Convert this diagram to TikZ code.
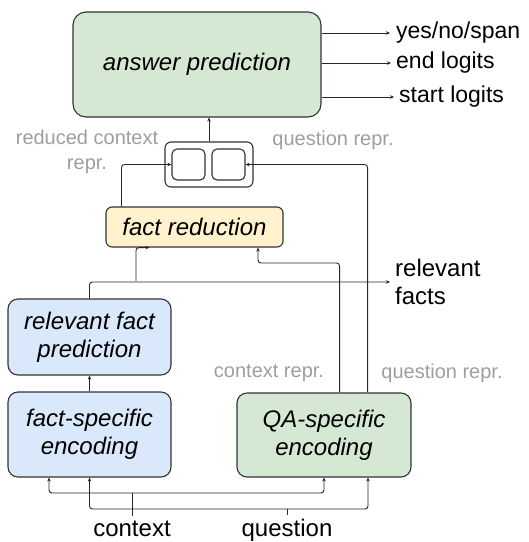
\documentclass[tikz,border=0pt]{standalone}
\usepackage{fontspec}
\setmainfont{Liberation Sans}
\usetikzlibrary{arrows.meta}
\definecolor{gfill}{HTML}{D5E8D4}
\definecolor{bfill}{HTML}{DAE8FC}
\definecolor{yfill}{HTML}{FFF2CC}
\definecolor{bord}{HTML}{333333}
\definecolor{lbl}{HTML}{9E9E9E}
\tikzset{
  box/.style={draw=bord, line width=1.1pt, rounded corners=#1, inner sep=0pt, align=center,
    font=\fontsize{24}{28}\selectfont\itshape},
  box/.default=10pt,
  arr/.style={draw=black!85, line width=0.9pt, -{Stealth[length=4pt,width=3.5pt]}},
  ln/.style={draw=black!85, line width=0.9pt},
  graylbl/.style={text=lbl, font=\fontsize{20}{25}\selectfont, align=center, inner sep=0pt},
  outlbl/.style={font=\fontsize{23}{28}\selectfont, anchor=west, inner sep=0pt, align=left},
  botlbl/.style={font=\fontsize{24}{28}\selectfont, inner sep=0pt, anchor=base}
}
\begin{document}
\begin{tikzpicture}[x=1pt,y=-1pt]
\useasboundingbox (0,0) rectangle (529,542);
% boxes
\node[box=13pt, fill=gfill, minimum width=248pt, minimum height=105pt] (ans) at (197,64.5) {answer prediction};
\node[box=6pt, minimum width=88pt, minimum height=45pt] (cc) at (209,164.5) {};
\node[box=5pt, minimum width=33pt, minimum height=31pt] (ciL) at (188.5,164.5) {};
\node[box=5pt, minimum width=33pt, minimum height=31pt] (ciR) at (228.5,164.5) {};
\node[box=6pt, fill=yfill, minimum width=177pt, minimum height=40pt] (fr) at (194.5,227) {fact reduction};
\node[box=10pt, fill=bfill, minimum width=163pt, minimum height=76pt] (rfp) at (89.5,337) {relevant fact\\prediction};
\node[box=10pt, fill=bfill, minimum width=163pt, minimum height=85pt] (fse) at (89.5,434.5) {fact-specific\\encoding};
\node[box=10pt, fill=gfill, minimum width=174pt, minimum height=84pt] (qa) at (324,435) {QA-specific\\encoding};
% gray labels
\node[graylbl] (l1) at (87,151.5) {reduced context\\repr.};
\node[graylbl] (l2) at (333,140) {question repr.};
\node[graylbl] (l3) at (269,373) {context repr.};
\node[graylbl] (l4) at (442,373) {question repr.};
% output labels
\node[outlbl] (o1) at (396,33) {yes/no/span};
\node[outlbl] (o2) at (396,63) {end logits};
\node[outlbl] (o3) at (399,97) {start logits};
\node[outlbl, font=\fontsize{24}{28}\selectfont] (rf) at (395,282) {relevant\\facts};
% bottom labels
\node[botlbl] (ctx) at (132,536.5) {context};
\node[botlbl] (qst) at (287,536.5) {question};
% output arrows
\draw[arr] (ans.east |- o1.west) -- ([xshift=-6pt]o1.west);
\draw[arr] (ans.east |- o2.west) -- ([xshift=-5pt]o2.west);
\draw[arr] (ans.east |- o3.west) -- ([xshift=-5pt]o3.west);
% concat to answer
\draw[arr] (cc.north) -- (cc.north |- ans.south);
% fact reduction to concat
\draw[arr, rounded corners=3pt] ([xshift=16pt]fr.north west) |- (ciL.west);
% question repr to concat
\draw[arr, rounded corners=3pt] ([xshift=-44pt]qa.north east) |- (ciR.east);
% context repr to fact reduction
\coordinate (c1) at (258,263);
\draw[arr, rounded corners=3pt] ([xshift=-72pt]qa.north east) |- (c1) -- (c1 |- fr.south);
% relevant facts
\draw[arr, rounded corners=3pt] (rfp.north) |- ([xshift=-5pt]rf.west);
\coordinate (j1) at (136,281);
\draw[arr, rounded corners=3pt] (j1) |- ([xshift=44pt]fr.south west);
% fse to rfp
\draw[arr] (fse.north) -- (rfp.south);
% bottom inputs
\coordinate (cj) at (132,493);
\coordinate (cb) at (132,516);
\coordinate (qj) at (287,509);
\coordinate (qb) at (287,515);
\draw[ln] (cj) -- (cb);
\draw[ln] (qj) -- (qb);
\draw[arr, rounded corners=3pt] (cj) -| ([xshift=-40.5pt]fse.south);
\draw[arr, rounded corners=3pt] (cj) -| (qa.south);
\draw[arr, rounded corners=3pt] (qj) -| (fse.south);
\draw[arr, rounded corners=3pt] (qj) -| ([xshift=44pt]qa.south);
\end{tikzpicture}
\end{document}
